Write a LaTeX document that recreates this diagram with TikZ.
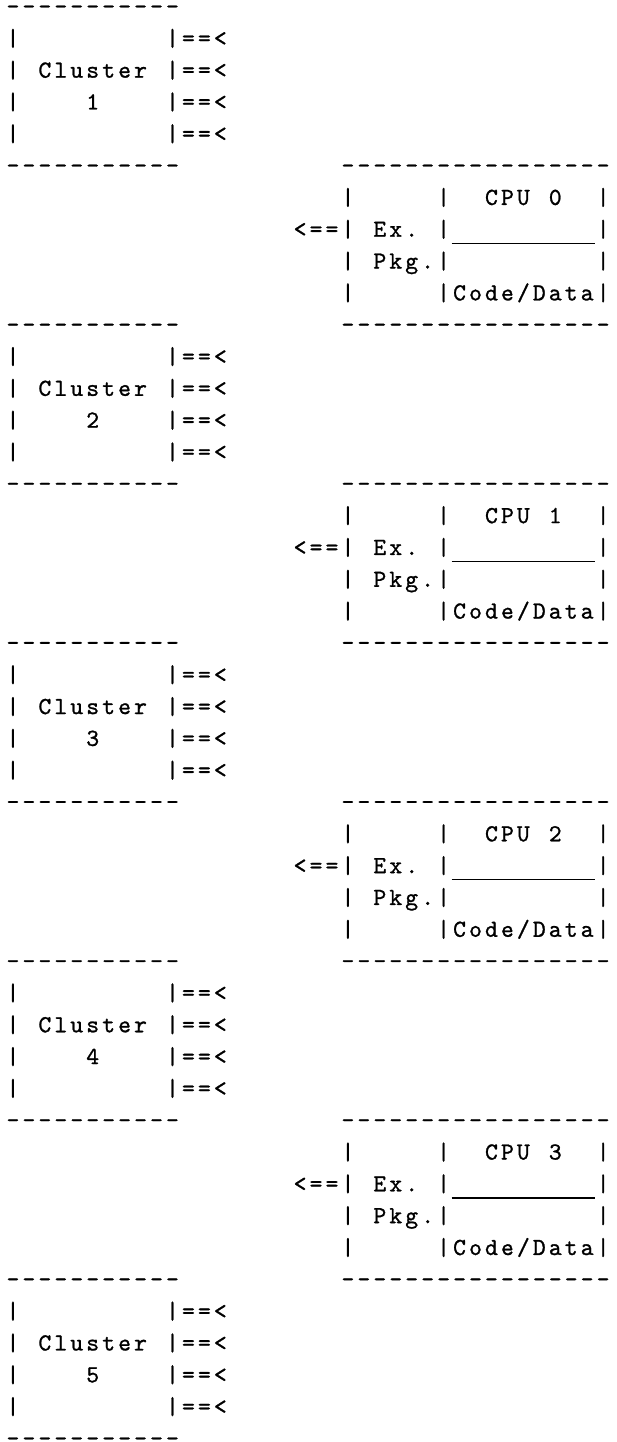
\documentclass[tikz,border=0pt]{standalone}
\usepackage{fontspec}
% typewriter face for the character grid, set a little heavier
\newfontfamily\asciifont{lmmono10-regular.otf}[FakeBold=1.0]

% one character cell of the monospace grid
\newlength\cw
\setlength\cw{15.95pt}
\newcommand\cell[1]{\makebox[\cw][c]{#1}}
% an underscore that joins its neighbours into one line
\newcommand\US{\rule[-7.2pt]{\cw}{1.4pt}}
% set a string cell by cell (~ is a blank cell)
\def\asciiend{\asciiend}
\def\asciiloop#1{\ifx#1\asciiend\else\cell{#1}\expandafter\asciiloop\fi}
\newcommand\ascii[1]{\asciiloop#1\asciiend}

\tikzset{
  asciiline/.style={anchor=base west, inner sep=0pt, outer sep=0pt,
    font=\asciifont\fontsize{24.5}{30}\selectfont}
}

\begin{document}
\begin{tikzpicture}
\useasboundingbox (0pt,0pt) rectangle (616pt,-1442pt);
\begin{scope}[shift={(5pt,-14pt)}, x=15.95pt, y=-31.82pt]
  % clusters on the left
  \foreach \n [evaluate=\n as \r using int(10*(\n-1))] in {1,...,5} {
    \node[asciiline] (cl\n top)  at (0,\r)   {\ascii{-----------}};
    \node[asciiline] (cl\n rowa) at (0,\r+1) {\ascii{|~~~~~~~~~|==<}};
    \node[asciiline] (cl\n name) at (0,\r+2) {\ascii{|~Cluster~|==<}};
    \node[asciiline] (cl\n num)  at (0,\r+3) {\ascii{|~~~~\n~~~~|==<}};
    \node[asciiline] (cl\n rowd) at (0,\r+4) {\ascii{|~~~~~~~~~|==<}};
    \node[asciiline] (cl\n bot)  at (0,\r+5) {\ascii{-----------}};
  }
  % CPUs with their executive packages on the right
  \foreach \cpuid [evaluate=\cpuid as \s using int(5+10*\cpuid)] in {0,...,3} {
    \node[asciiline] (cpu\cpuid top)  at (21,\s)   {\ascii{-----------------}};
    \node[asciiline] (cpu\cpuid name) at (21,\s+1) {\ascii{|~~~~~|~~CPU~\cpuid~~|}};
    \node[asciiline] (cpu\cpuid link) at (18,\s+2) {\ascii{<==|~Ex.~|\US\US\US\US\US\US\US\US\US|}};
    \node[asciiline] (cpu\cpuid pkg)  at (21,\s+3) {\ascii{|~Pkg.|~~~~~~~~~|}};
    \node[asciiline] (cpu\cpuid code) at (21,\s+4) {\ascii{|~~~~~|Code/Data|}};
    \node[asciiline] (cpu\cpuid bot)  at (21,\s+5) {\ascii{-----------------}};
  }
\end{scope}
\end{tikzpicture}
\end{document}
